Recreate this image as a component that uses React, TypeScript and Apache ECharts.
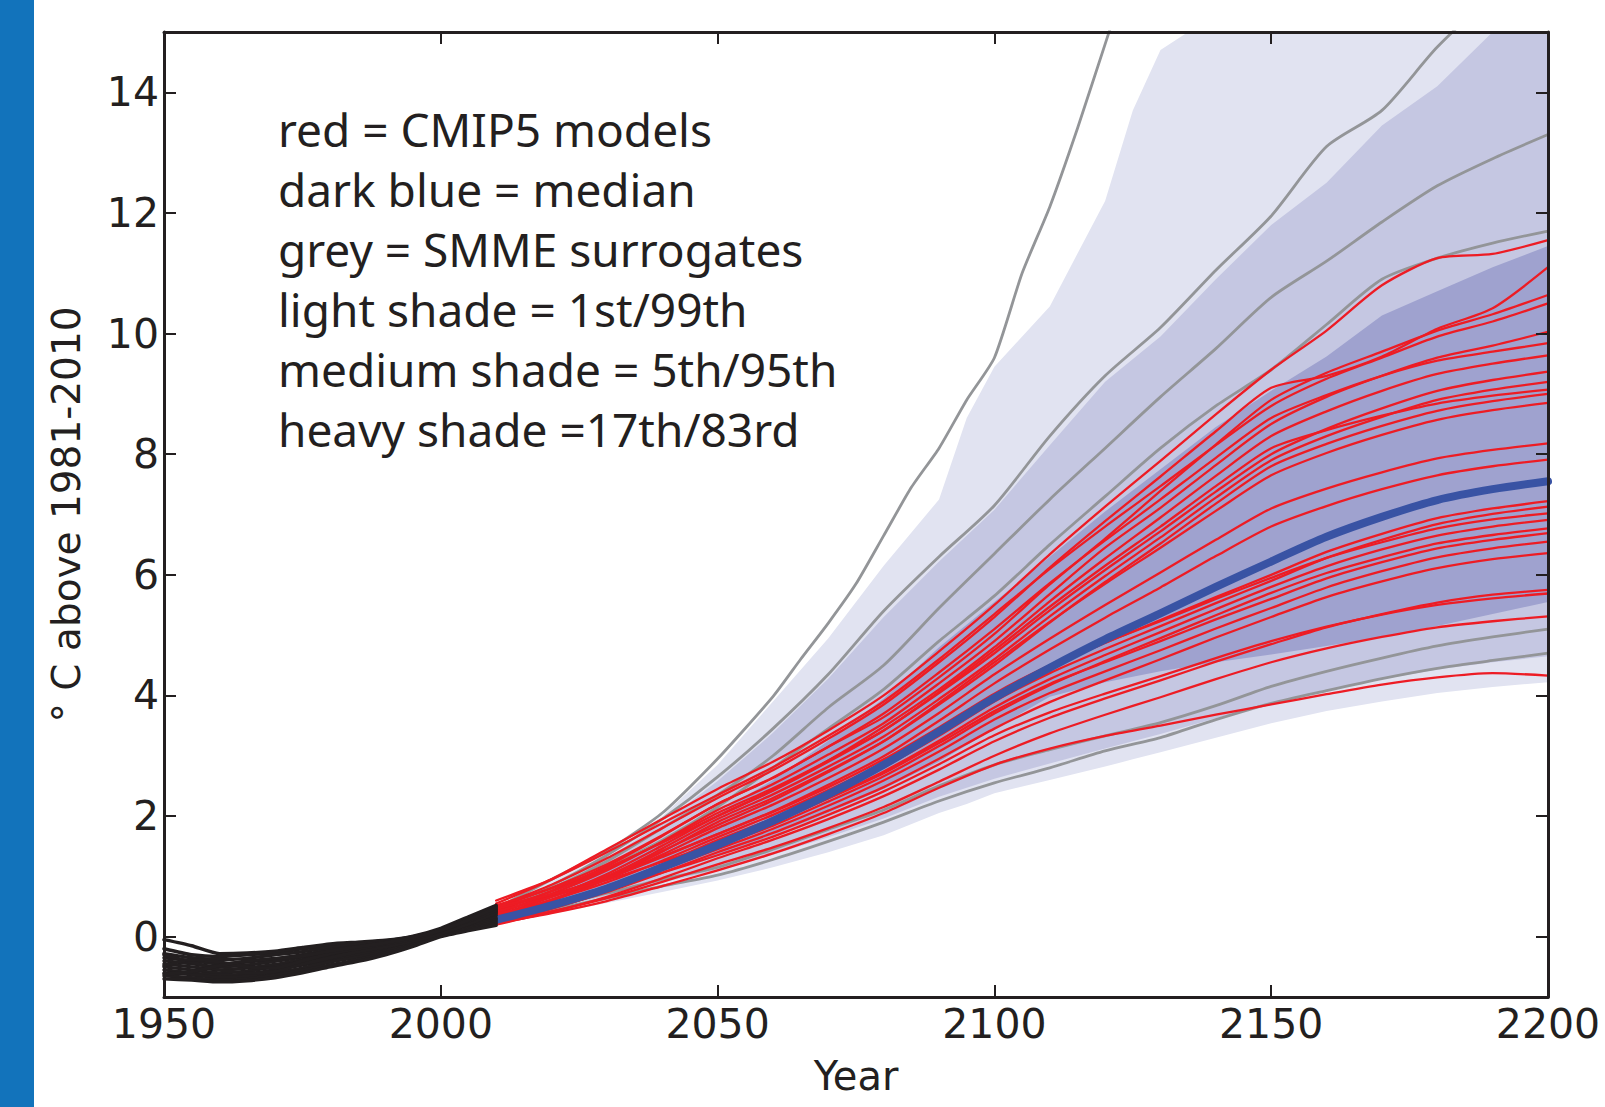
import React, { useEffect, useRef } from "react";
import * as echarts from "echarts";

// ---------- axes ----------
const X_MIN = 1950;
const X_MAX = 2200;
const X_STEP = 50;
const Y_MIN = -1;
const Y_MAX = 15;
const Y_TICK_LABELS = [0, 2, 4, 6, 8, 10, 12, 14];

// ---------- years ----------
const YEARS = [2010, 2020, 2030, 2040, 2050, 2060, 2070, 2080, 2090, 2100, 2110, 2120, 2130, 2140, 2150, 2160, 2170, 2180, 2190, 2200];
const HIST_YEARS = [1950, 1955, 1960, 1965, 1970, 1975, 1980, 1985, 1990, 1995, 2000, 2005, 2010];
const LIGHT_YEARS = [2010, 2020, 2030, 2040, 2050, 2060, 2070, 2080, 2090, 2095, 2100, 2110, 2120, 2125, 2130, 2135, 2140, 2150, 2160, 2170, 2180, 2190, 2200];

// ---------- shaded percentile bands ----------
const P99 = [0.47, 0.93, 1.4, 2.0, 2.85, 3.9, 4.95, 6.15, 7.25, 8.6, 9.45, 10.45, 12.2, 13.7, 14.7, 15, 15, 15, 15, 15, 15, 15, 15];
const P01 = [0.2, 0.38, 0.56, 0.74, 0.93, 1.15, 1.4, 1.68, 2.05, 2.2, 2.38, 2.6, 2.82, 2.94, 3.06, 3.18, 3.3, 3.54, 3.74, 3.9, 4.04, 4.14, 4.22];
const P95 = [0.43, 0.82, 1.3, 1.88, 2.58, 3.38, 4.28, 5.3, 6.22, 7.08, 8.15, 9.2, 9.95, 10.9, 11.8, 12.5, 13.45, 14.1, 15, 15];
const P05 = [0.25, 0.46, 0.68, 0.9, 1.1, 1.36, 1.65, 1.96, 2.32, 2.62, 2.87, 3.12, 3.36, 3.62, 3.88, 4.08, 4.27, 4.43, 4.55, 4.65];
const P83 = [0.4, 0.75, 1.12, 1.55, 2.05, 2.6, 3.25, 3.95, 4.8, 5.55, 6.3, 7.05, 7.75, 8.45, 9.05, 9.62, 10.3, 10.7, 11.1, 11.45];
const P17 = [0.3, 0.52, 0.78, 1.05, 1.35, 1.68, 2.05, 2.45, 2.9, 3.45, 3.98, 4.22, 4.4, 4.55, 4.68, 4.82, 4.97, 5.15, 5.35, 5.55];

// ---------- median ----------
const MEDIAN = [0.28, 0.52, 0.8, 1.15, 1.52, 1.92, 2.36, 2.85, 3.4, 3.96, 4.46, 4.93, 5.36, 5.8, 6.22, 6.63, 6.96, 7.24, 7.42, 7.55];

// ---------- SMME surrogates (grey) ----------
const GREY1_YEARS = [2010, 2020, 2030, 2040, 2050, 2060, 2065, 2070, 2075, 2080, 2085, 2090, 2095, 2100, 2105, 2110, 2115, 2120, 2125];
const GREY1 = [0.47, 0.95, 1.42, 2.05, 2.95, 3.98, 4.6, 5.2, 5.85, 6.65, 7.45, 8.1, 8.9, 9.6, 11.0, 12.1, 13.4, 14.8, 16.2];
const GREY2 = [0.45, 0.85, 1.35, 1.95, 2.65, 3.45, 4.35, 5.4, 6.3, 7.15, 8.3, 9.3, 10.1, 11.05, 11.95, 13.1, 13.7, 14.75, 15.6, 16.2];
const GREY3 = [0.45, 0.8, 1.25, 1.8, 2.35, 3.0, 3.8, 4.5, 5.45, 6.35, 7.25, 8.1, 8.95, 9.75, 10.6, 11.2, 11.85, 12.45, 12.9, 13.3];
const GREY4 = [0.45, 0.75, 1.15, 1.6, 2.15, 2.8, 3.45, 4.1, 4.9, 5.65, 6.5, 7.3, 8.1, 8.8, 9.4, 10.15, 10.9, 11.25, 11.5, 11.7];
const GREY5 = [0.3, 0.5, 0.72, 0.95, 1.15, 1.45, 1.78, 2.1, 2.5, 2.85, 3.1, 3.33, 3.55, 3.83, 4.15, 4.4, 4.62, 4.82, 4.97, 5.1];
const GREY6 = [0.28, 0.45, 0.64, 0.84, 1.02, 1.28, 1.58, 1.9, 2.25, 2.55, 2.8, 3.08, 3.3, 3.6, 3.87, 4.08, 4.28, 4.45, 4.58, 4.7];

// ---------- CMIP5 models (red) ----------
const RED_MODELS = [
  [0.55, 0.95, 1.45, 1.95, 2.45, 2.9, 3.42, 4.0, 4.73, 5.5, 6.34, 7.13, 7.89, 8.66, 9.4, 10.05, 10.8, 11.25, 11.32, 11.55],
  [0.5, 0.86, 1.3, 1.8, 2.3, 2.76, 3.28, 3.85, 4.55, 5.3, 6.12, 6.89, 7.63, 8.38, 9.1, 9.3, 9.62, 10.08, 10.42, 11.1],
  [0.42, 0.76, 1.17, 1.67, 2.2, 2.63, 3.15, 3.64, 4.3, 5.02, 5.84, 6.6, 7.39, 8.16, 8.9, 9.35, 9.7, 10.05, 10.32, 10.64],
  [0.6, 0.95, 1.4, 1.88, 2.35, 2.81, 3.33, 3.9, 4.6, 5.35, 6.1, 6.8, 7.47, 8.15, 8.8, 9.25, 9.6, 9.95, 10.2, 10.5],
  [0.38, 0.71, 1.1, 1.58, 2.1, 2.53, 3.02, 3.54, 4.2, 4.9, 5.68, 6.45, 7.11, 7.82, 8.5, 8.95, 9.3, 9.6, 9.8, 10.03],
  [0.48, 0.81, 1.2, 1.68, 2.2, 2.64, 3.15, 3.7, 4.38, 5.1, 5.86, 6.57, 7.25, 7.94, 8.6, 8.98, 9.3, 9.55, 9.7, 9.84],
  [0.35, 0.66, 1.04, 1.51, 2.0, 2.43, 2.92, 3.48, 4.1, 4.8, 5.56, 6.27, 6.95, 7.64, 8.3, 8.71, 9.05, 9.33, 9.5, 9.64],
  [0.45, 0.75, 1.12, 1.57, 2.05, 2.46, 2.92, 3.42, 4.04, 4.7, 5.41, 6.08, 6.72, 7.38, 8.0, 8.42, 8.76, 9.05, 9.23, 9.37],
  [0.3, 0.61, 0.99, 1.46, 1.95, 2.36, 2.82, 3.32, 3.94, 4.6, 5.31, 5.98, 6.62, 7.28, 7.9, 8.3, 8.62, 8.9, 9.07, 9.2],
  [0.52, 0.8, 1.14, 1.56, 2.0, 2.42, 2.9, 3.42, 4.06, 4.75, 5.47, 6.15, 6.8, 7.47, 8.1, 8.4, 8.64, 8.84, 8.97, 9.07],
  [0.28, 0.59, 0.96, 1.41, 1.9, 2.3, 2.75, 3.24, 3.85, 4.5, 5.21, 5.88, 6.52, 7.18, 7.8, 8.17, 8.47, 8.72, 8.88, 9.0],
  [0.4, 0.68, 1.01, 1.42, 1.85, 2.26, 2.73, 3.24, 3.88, 4.55, 5.22, 5.85, 6.45, 7.06, 7.65, 8.02, 8.32, 8.57, 8.73, 8.85],
  [0.33, 0.61, 0.95, 1.36, 1.8, 2.19, 2.63, 3.12, 3.71, 4.35, 4.94, 5.5, 6.04, 6.58, 7.1, 7.43, 7.7, 7.93, 8.07, 8.18],
  [0.46, 0.7, 0.98, 1.33, 1.7, 2.08, 2.52, 2.99, 3.58, 4.2, 4.76, 5.29, 5.79, 6.31, 6.8, 7.14, 7.42, 7.65, 7.8, 7.91],
  [0.36, 0.61, 0.9, 1.26, 1.65, 2.02, 2.43, 2.89, 3.45, 4.0, 4.47, 4.87, 5.25, 5.63, 6.0, 6.38, 6.68, 6.94, 7.1, 7.22],
  [0.25, 0.51, 0.82, 1.2, 1.6, 1.96, 2.37, 2.81, 3.33, 3.9, 4.37, 4.77, 5.15, 5.53, 5.9, 6.28, 6.58, 6.84, 7.01, 7.13],
  [0.42, 0.66, 0.96, 1.32, 1.7, 2.07, 2.48, 2.94, 3.47, 4.03, 4.5, 4.88, 5.23, 5.6, 5.95, 6.28, 6.54, 6.77, 6.92, 7.02],
  [0.3, 0.54, 0.83, 1.18, 1.55, 1.9, 2.3, 2.74, 3.25, 3.8, 4.27, 4.67, 5.05, 5.43, 5.8, 6.14, 6.42, 6.65, 6.8, 6.91],
  [0.22, 0.46, 0.76, 1.12, 1.5, 1.84, 2.24, 2.66, 3.16, 3.7, 4.17, 4.57, 4.95, 5.33, 5.7, 6.03, 6.29, 6.52, 6.66, 6.77],
  [0.5, 0.7, 0.94, 1.24, 1.55, 1.89, 2.29, 2.71, 3.21, 3.74, 4.19, 4.55, 4.9, 5.26, 5.6, 5.94, 6.21, 6.44, 6.58, 6.69],
  [0.32, 0.53, 0.79, 1.11, 1.45, 1.79, 2.17, 2.59, 3.07, 3.6, 4.04, 4.4, 4.75, 5.11, 5.45, 5.79, 6.06, 6.29, 6.44, 6.55],
  [0.27, 0.48, 0.74, 1.06, 1.4, 1.72, 2.09, 2.48, 2.95, 3.45, 3.89, 4.25, 4.6, 4.96, 5.3, 5.63, 5.89, 6.11, 6.26, 6.36],
  [0.2, 0.41, 0.66, 0.97, 1.3, 1.61, 1.95, 2.33, 2.77, 3.24, 3.63, 3.95, 4.25, 4.56, 4.85, 5.13, 5.35, 5.54, 5.67, 5.75],
  [0.38, 0.56, 0.79, 1.06, 1.35, 1.66, 2.02, 2.41, 2.86, 3.34, 3.72, 4.03, 4.32, 4.62, 4.9, 5.14, 5.34, 5.5, 5.61, 5.69],
  [0.24, 0.42, 0.64, 0.91, 1.2, 1.48, 1.8, 2.15, 2.57, 3.0, 3.37, 3.68, 3.97, 4.27, 4.55, 4.78, 4.97, 5.13, 5.23, 5.31],
  [0.22, 0.39, 0.59, 0.84, 1.1, 1.38, 1.7, 2.05, 2.47, 2.85, 3.12, 3.33, 3.5, 3.68, 3.85, 4.02, 4.18, 4.3, 4.37, 4.33],
];

// ---------- historical (black) ----------
const HISTORICAL = [
  [-0.05, -0.15, -0.28, -0.27, -0.24, -0.18, -0.12, -0.09, -0.06, 0.01, 0.14, 0.33, 0.52],
  [-0.2, -0.3, -0.33, -0.3, -0.27, -0.2, -0.15, -0.1, -0.07, 0.0, 0.12, 0.3, 0.5],
  [-0.28, -0.35, -0.38, -0.36, -0.3, -0.25, -0.18, -0.13, -0.09, -0.02, 0.1, 0.27, 0.46],
  [-0.35, -0.4, -0.45, -0.42, -0.37, -0.3, -0.22, -0.16, -0.11, -0.03, 0.09, 0.24, 0.42],
  [-0.4, -0.45, -0.5, -0.47, -0.41, -0.34, -0.26, -0.19, -0.13, -0.05, 0.08, 0.22, 0.38],
  [-0.45, -0.5, -0.55, -0.52, -0.46, -0.38, -0.3, -0.22, -0.15, -0.06, 0.07, 0.2, 0.35],
  [-0.5, -0.55, -0.6, -0.57, -0.5, -0.42, -0.34, -0.26, -0.18, -0.08, 0.06, 0.18, 0.31],
  [-0.55, -0.6, -0.64, -0.62, -0.55, -0.47, -0.38, -0.3, -0.21, -0.1, 0.04, 0.16, 0.28],
  [-0.6, -0.63, -0.68, -0.66, -0.6, -0.52, -0.42, -0.34, -0.24, -0.12, 0.03, 0.14, 0.25],
  [-0.65, -0.68, -0.72, -0.7, -0.64, -0.56, -0.47, -0.38, -0.27, -0.14, 0.02, 0.12, 0.22],
  [-0.7, -0.72, -0.75, -0.73, -0.68, -0.6, -0.5, -0.41, -0.3, -0.16, 0.0, 0.1, 0.19],
  [-0.3, -0.42, -0.55, -0.6, -0.58, -0.45, -0.35, -0.25, -0.17, -0.07, 0.05, 0.21, 0.4],
  [-0.48, -0.38, -0.42, -0.5, -0.52, -0.4, -0.28, -0.2, -0.12, -0.04, 0.1, 0.26, 0.44],
  [-0.62, -0.58, -0.48, -0.4, -0.36, -0.32, -0.24, -0.17, -0.1, -0.01, 0.11, 0.28, 0.48],
];

// ---------- text ----------
const ANNOTATION_LINES = [
  "red = CMIP5 models",
  "dark blue = median",
  "grey = SMME surrogates",
  "light shade = 1st/99th",
  "medium shade = 5th/95th",
  "heavy shade =17th/83rd",
];
const X_NAME = "Year";
const Y_NAME = "\u00B0 C above 1981-2010";

const INK = "#231f20";
const RED = "#ed1c24";
const GREY = "#939598";
const BLUE = "#3953a4";
const LIGHT = "#e1e3f1";
const MEDIUM = "#c5c7e2";
const HEAVY = "#9fa2cf";

const pairs = (xs: number[], ys: number[]) => xs.map((x, i) => [x, ys[i]]);

const lineSeries = (data: number[][], color: string, width: number, z: number, smooth: number) => ({
  type: "line",
  data,
  symbol: "none",
  showSymbol: false,
  silent: true,
  z,
  clip: true,
  smooth,
  lineStyle: { color, width, join: "round", cap: "round" },
  emphasis: { disabled: true },
  animation: false,
});

const bandSeries = (years: number[], lower: number[], upper: number[], color: string, z: number) => ({
  type: "custom",
  silent: true,
  z,
  clip: true,
  animation: false,
  data: years.map((y, i) => [y, lower[i], upper[i]]),
  encode: { x: 0, y: [1, 2] },
  renderItem: (params: any, api: any) => {
    if (params.dataIndex !== 0) return null;
    const pts: number[][] = [];
    for (let i = 0; i < years.length; i++) pts.push(api.coord([years[i], upper[i]]));
    for (let i = years.length - 1; i >= 0; i--) pts.push(api.coord([years[i], lower[i]]));
    return { type: "polygon", shape: { points: pts }, style: { fill: color, stroke: null } };
  },
});

const axisLine = { show: true, onZero: false, lineStyle: { color: INK, width: 3 } };
const axisTick = { show: true, inside: true, length: 12, lineStyle: { color: INK, width: 2 } };

export default function App() {
  const ref = useRef<HTMLDivElement>(null);

  useEffect(() => {
    if (!ref.current) return;
    const chart = echarts.init(ref.current, undefined, { renderer: "svg" });

    const series: any[] = [];
    series.push(bandSeries(LIGHT_YEARS, P01, P99, LIGHT, 1));
    series.push(bandSeries(YEARS, P05, P95, MEDIUM, 2));
    series.push(bandSeries(YEARS, P17, P83, HEAVY, 3));
    series.push(lineSeries(pairs(GREY1_YEARS, GREY1), GREY, 2.8, 4, 0.2));
    [GREY2, GREY3, GREY4, GREY5, GREY6].forEach((g) => series.push(lineSeries(pairs(YEARS, g), GREY, 2.8, 4, 0.25)));
    RED_MODELS.forEach((r) => series.push(lineSeries(pairs(YEARS, r), RED, 2.3, 5, 0.25)));
    series.push(lineSeries(pairs(YEARS, MEDIAN), BLUE, 8, 6, 0.3));
    HISTORICAL.forEach((h) => series.push(lineSeries(pairs(HIST_YEARS, h), INK, 3.4, 6, 0.2)));

    const texts = ANNOTATION_LINES.map((t, i) => ({
      type: "text",
      left: 278,
      top: 106 + i * 60,
      z: 20,
      style: {
        text: t,
        font: '46px "Noto Sans"',
        fill: INK,
      },
    }));

    chart.setOption({
      animation: false,
      backgroundColor: "#ffffff",
      grid: { left: 164, right: 57, top: 32, bottom: 110, show: false },
      xAxis: [
        {
          type: "value",
          min: X_MIN,
          max: X_MAX,
          interval: X_STEP,
          position: "bottom",
          z: 10,
          axisLine,
          axisTick,
          splitLine: { show: false },
          axisLabel: {
            fontFamily: "DejaVu Sans",
            fontSize: 41,
            color: INK,
            margin: 6,
            formatter: (v: number) => String(v),
          },
          name: X_NAME,
          nameLocation: "middle",
          nameGap: 59,
          nameTextStyle: { fontFamily: "DejaVu Sans", fontSize: 40, color: INK },
        },
        {
          type: "value",
          min: X_MIN,
          max: X_MAX,
          interval: X_STEP,
          position: "top",
          z: 10,
          axisLine,
          axisTick,
          splitLine: { show: false },
          axisLabel: { show: false },
        },
      ],
      yAxis: [
        {
          type: "value",
          min: Y_MIN,
          max: Y_MAX,
          splitNumber: 8,
          position: "left",
          z: 10,
          axisLine,
          axisTick,
          splitLine: { show: false },
          axisLabel: {
            fontFamily: "DejaVu Sans",
            fontSize: 41,
            color: INK,
            margin: 5,
            formatter: (v: number) => (Y_TICK_LABELS.includes(v) ? String(v) : ""),
          },
          name: Y_NAME,
          nameLocation: "middle",
          nameGap: 78,
          nameRotate: 90,
          nameTextStyle: { fontFamily: "DejaVu Sans", fontSize: 39, color: INK },
        },
        {
          type: "value",
          min: Y_MIN,
          max: Y_MAX,
          splitNumber: 8,
          position: "right",
          z: 10,
          axisLine,
          axisTick,
          splitLine: { show: false },
          axisLabel: { show: false },
        },
      ],
      graphic: [
        { type: "rect", left: 0, top: 0, z: 30, shape: { x: 0, y: 0, width: 34, height: 1107 }, style: { fill: "#1273bb" } },
        ...texts,
      ],
      series,
    });

    return () => chart.dispose();
  }, []);

  return (
    <div
      ref={ref}
      style={{ position: "absolute", left: 0, top: 0, width: 1605, height: 1107, background: "#fff" }}
    />
  );
}
